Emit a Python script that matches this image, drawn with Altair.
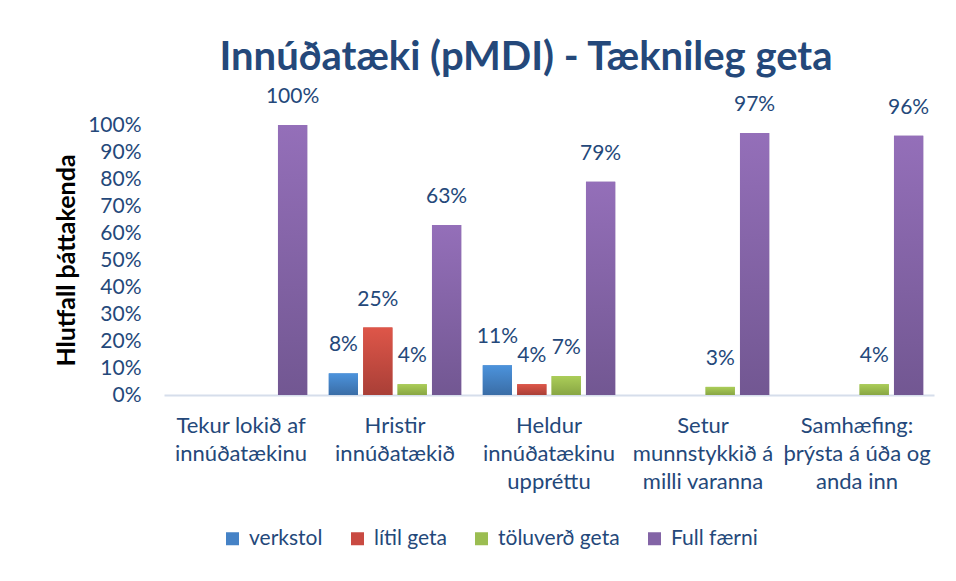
import altair as alt
import pandas as pd

# ---- data ----
categories = [
    "Tekur lokið af\ninnúðatækinu",
    "Hristir\ninnúðatækið",
    "Heldur\ninnúðatækinu\nuppréttu",
    "Setur\nmunnstykkið á\nmilli varanna",
    "Samhæfing:\nþrýsta á úða og\nanda inn",
]
series = ["verkstol", "lítil geta", "töluverð geta", "Full færni"]
verkstol = [0, 8, 11, 0, 0]
litil_geta = [0, 25, 4, 0, 0]
toluverd_geta = [0, 4, 7, 3, 4]
full_faerni = [100, 63, 79, 97, 96]
y_ticks = [0, 0.1, 0.2, 0.3, 0.4, 0.5, 0.6, 0.7, 0.8, 0.9, 1.0]

colors = ["#4582c6", "#c94a42", "#9bbd51", "#8364a6"]
tops = ["#4c93dc", "#de5649", "#abcd58", "#946fb9"]
bottoms = ["#3a6da6", "#a93f37", "#88a644", "#725792"]
TXT = "#24487a"
FONT = "Lato"

rows = []
for s, vals in zip(series, [verkstol, litil_geta, toluverd_geta, full_faerni]):
    for c, v in zip(categories, vals):
        if v > 0:
            rows.append({"flokkur": c, "hopur": s, "hlutfall": v / 100})
df = pd.DataFrame(rows)

x = alt.X(
    "flokkur:N",
    sort=categories,
    scale=alt.Scale(domain=categories, paddingInner=0.14, paddingOuter=0.07),
    axis=alt.Axis(
        title=None,
        labelExpr="split(datum.value, '\\n')",
        labelAngle=0,
        labelFontSize=22,
        labelColor=TXT,
        labelLineHeight=28,
        labelPadding=20,
        labelBaseline="top",
        labelLimit=300,
        domainColor="#d6deeb",
        domainWidth=2,
        ticks=False,
    ),
)
xo = alt.XOffset("hopur:N", sort=series, scale=alt.Scale(domain=series, paddingInner=0.15))
y = alt.Y(
    "hlutfall:Q",
    scale=alt.Scale(domain=[0, 1], nice=False),
    axis=alt.Axis(
        format=".0%",
        values=y_ticks,
        labelFontSize=21,
        labelColor=TXT,
        title="Hlutfall þáttakenda",
        titleFontSize=25,
        titleFontWeight="bold",
        titleColor="black",
        grid=False,
        domain=False,
        ticks=False,
        labelPadding=23,
        titlePadding=8,
    ),
)

base = alt.Chart(df)
solid = base.mark_bar().encode(
    x=x,
    xOffset=xo,
    y=y,
    color=alt.Color(
        "hopur:N",
        sort=series,
        scale=alt.Scale(domain=series, range=colors),
        legend=alt.Legend(
            title=None,
            orient="none",
            legendX=58,
            legendY=403,
            direction="horizontal",
            symbolType="square",
            symbolSize=169,
            symbolStrokeWidth=0,
            labelFontSize=21,
            labelColor=TXT,
            columnPadding=24,
            labelOffset=6,
        ),
    ),
)
layers = [solid]
for s, t, b in zip(series, tops, bottoms):
    layers.append(
        base.transform_filter(alt.datum.hopur == s)
        .mark_bar(
            fill=alt.Gradient(
                gradient="linear",
                x1=0, x2=0, y1=0, y2=1,
                stops=[alt.GradientStop(color=t, offset=0), alt.GradientStop(color=b, offset=1)],
            )
        )
        .encode(x=x, xOffset=xo, y=y)
    )
labels = base.mark_text(baseline="bottom", dy=-18, fontSize=21, color=TXT).encode(
    x=x,
    xOffset=xo,
    y=y,
    text=alt.Text("hlutfall:Q", format=".0%"),
)
layers.append(labels)

chart = (
    alt.layer(*layers)
    .properties(
        width=770,
        height=270,
        title=alt.Title(
            "Innúðatæki (pMDI) - Tæknileg geta",
            fontSize=40,
            fontWeight="bold",
            color=TXT,
            anchor="middle",
            frame="group",
            dx=-23,
            offset=8,
        ),
        autosize=alt.AutoSizeParams(type="none"),
        padding={"left": 164, "top": 125, "right": 22, "bottom": 186},
    )
    .configure(font=FONT)
    .configure_view(stroke=None)
)

chart.save("out.html", embed_options={"renderer": "svg", "actions": False})
